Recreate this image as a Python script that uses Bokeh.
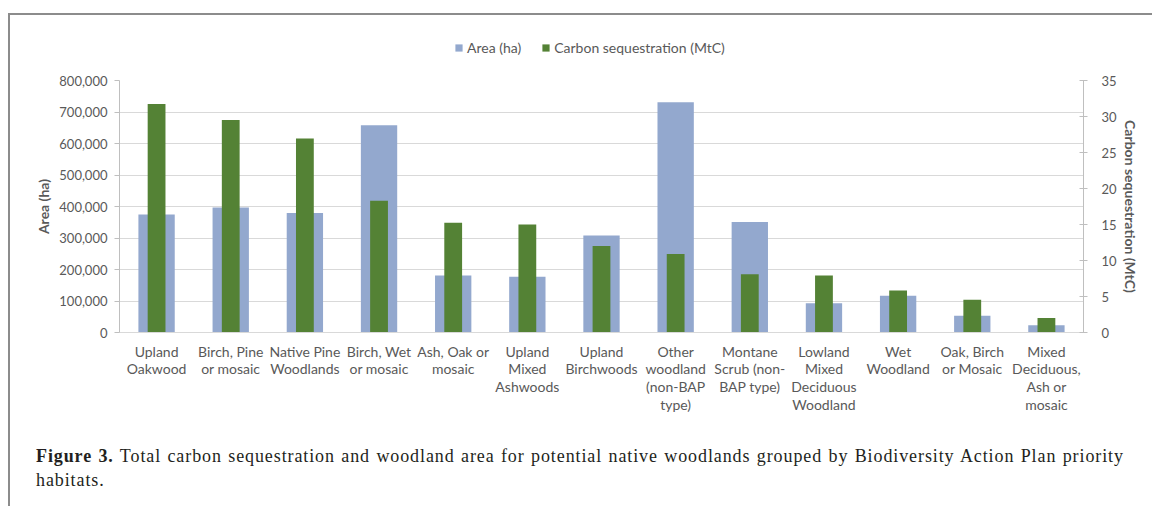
from bokeh.plotting import figure
from bokeh.models import (ColumnDataSource, FactorRange, Range1d, LinearAxis, FixedTicker,
                          NumeralTickFormatter, Legend, LegendItem, Div)
from bokeh.layouts import column
from bokeh.embed import file_html
from bokeh.resources import INLINE

# ---- data ----
categories = [
    "Upland\nOakwood",
    "Birch, Pine\nor mosaic",
    "Native Pine\nWoodlands",
    "Birch, Wet\nor mosaic",
    "Ash, Oak or\nmosaic",
    "Upland\nMixed\nAshwoods",
    "Upland\nBirchwoods",
    "Other\nwoodland\n(non-BAP\ntype)",
    "Montane\nScrub (non-\nBAP type)",
    "Lowland\nMixed\nDeciduous\nWoodland",
    "Wet\nWoodland",
    "Oak, Birch\nor Mosaic",
    "Mixed\nDeciduous,\nAsh or\nmosaic",
]
area_ha = [375000, 397000, 379000, 658000, 181000, 177000, 308000,
           731000, 351000, 93000, 117000, 53000, 23000]
carbon_mtc = [31.75, 29.5, 26.95, 18.3, 15.25, 15.0, 12.0,
              10.9, 8.1, 7.9, 5.85, 4.55, 2.0]
area_ticks = [0, 100000, 200000, 300000, 400000, 500000, 600000, 700000, 800000]
carbon_ticks = [0, 5, 10, 15, 20, 25, 30, 35]
series_names = ["Area (ha)", "Carbon sequestration (MtC)"]
caption_bold = "Figure 3."
caption_line1 = ("Total carbon sequestration and woodland area for potential native woodlands "
                 "grouped by Biodiversity Action Plan priority")
caption_line2 = "habitats."

BLUE = "#93a8ce"
GREEN = "#548235"
GREY_TXT = "#595959"
FONT = "Lato"
SERIF = "Liberation Serif"

W = 1136          # width of every block
H_LEG = 50        # legend strip
H_MAIN = 375      # chart
H_CAP = 60        # caption

# ---------------- main chart ----------------
source = ColumnDataSource(dict(cat=categories, area=area_ha, carbon=carbon_mtc))

p = figure(x_range=FactorRange(*categories), y_range=Range1d(0, 800000),
           width=W, height=H_MAIN, output_backend="svg", toolbar_location=None,
           min_border_left=109, min_border_right=63, min_border_top=15,
           min_border_bottom=108)
p.extra_y_ranges = {"carbon": Range1d(0, 35)}

r1 = p.vbar(x="cat", top="area", width=0.49, source=source,
            fill_color=BLUE, line_color=None)
r2 = p.vbar(x="cat", top="carbon", width=0.24, source=source,
            y_range_name="carbon", fill_color=GREEN, line_color=None)

p.outline_line_color = None
p.xgrid.visible = False
p.ygrid.grid_line_color = "#d9d9d9"
p.ygrid.grid_line_width = 1

# left axis
ya = p.yaxis[0]
ya.ticker = FixedTicker(ticks=area_ticks)
ya.formatter = NumeralTickFormatter(format="0,0")
ya.axis_label = series_names[0]
ya.axis_line_color = "#bfbfbf"
ya.major_tick_line_color = "#bfbfbf"
ya.major_tick_out = 5
ya.major_tick_in = 0
ya.minor_tick_line_color = None
ya.major_label_standoff = 7
ya.major_label_text_font = FONT
ya.major_label_text_font_size = "13px"
ya.major_label_text_color = GREY_TXT
ya.axis_label_text_font = FONT
ya.axis_label_text_font_size = "14px"
ya.axis_label_text_font_style = "bold"
ya.axis_label_text_color = GREY_TXT
ya.axis_label_standoff = 4

# right axis
ra = LinearAxis(y_range_name="carbon", ticker=FixedTicker(ticks=carbon_ticks),
                axis_label=series_names[1])
ra.axis_line_color = "#bfbfbf"
ra.major_tick_line_color = "#bfbfbf"
ra.major_tick_out = 4
ra.major_tick_in = 4
ra.minor_tick_line_color = None
ra.major_label_standoff = 14
ra.major_label_text_font = FONT
ra.major_label_text_font_size = "13px"
ra.major_label_text_color = GREY_TXT
ra.axis_label_text_font = FONT
ra.axis_label_text_font_size = "14px"
ra.axis_label_text_font_style = "bold"
ra.axis_label_text_color = GREY_TXT
ra.axis_label_standoff = 2
p.add_layout(ra, "right")

# bottom axis
xa = p.xaxis[0]
xa.axis_line_color = "#d9d9d9"
xa.major_tick_line_color = None
xa.minor_tick_line_color = None
xa.major_label_standoff = 4
xa.major_label_text_font = FONT
xa.major_label_text_font_size = "14px"
xa.major_label_text_line_height = 1.04
xa.major_label_text_color = GREY_TXT
xa.major_label_orientation = "horizontal"

# ---------------- legend strip ----------------
# the key renderers use the same data but this strip's ranges keep them out of view,
# so only the legend swatches are drawn
lf = figure(width=W, height=H_LEG, output_backend="svg", toolbar_location=None,
            x_range=Range1d(0, 1000), y_range=Range1d(1e7, 2e7), min_border=0)
lf.axis.visible = False
lf.grid.visible = False
lf.outline_line_color = None
k1 = lf.vbar(x="carbon", top="area", width=0.1, source=source,
             fill_color=BLUE, line_color=None)
k2 = lf.vbar(x="carbon", top="area", width=0.1, source=source,
             fill_color=GREEN, line_color=None)
legend = Legend(items=[LegendItem(label=series_names[0], renderers=[k1]),
                       LegendItem(label=series_names[1], renderers=[k2])],
                orientation="horizontal", location=(335, 8),
                border_line_color=None, background_fill_alpha=0,
                glyph_width=9, glyph_height=9, label_standoff=4, spacing=20,
                label_text_font=FONT, label_text_font_size="14px",
                label_text_color=GREY_TXT, label_height=20,
                padding=2, margin=0, inactive_fill_alpha=0)
lf.add_layout(legend)

# ---------------- caption ----------------
cap = Div(text=('<div style="font-family:\'Liberation Serif\';font-size:18px;line-height:24px;'
                'color:#231f20;padding-left:21px;padding-top:0px;position:relative;top:-1px;'
                'letter-spacing:0.9px;word-spacing:1px;white-space:nowrap;">'
                '<b>' + caption_bold + '</b> ' + caption_line1 + '<br>' + caption_line2 + '</div>'),
          width=W, height=H_CAP)

layout = column(lf, p, cap, margin=(13, 0, 0, 8), spacing=0,
                styles={"border-top": "2px solid #8c8c8c", "border-left": "2px solid #8c8c8c"})

open("out.html", "w").write(file_html(layout, INLINE))
